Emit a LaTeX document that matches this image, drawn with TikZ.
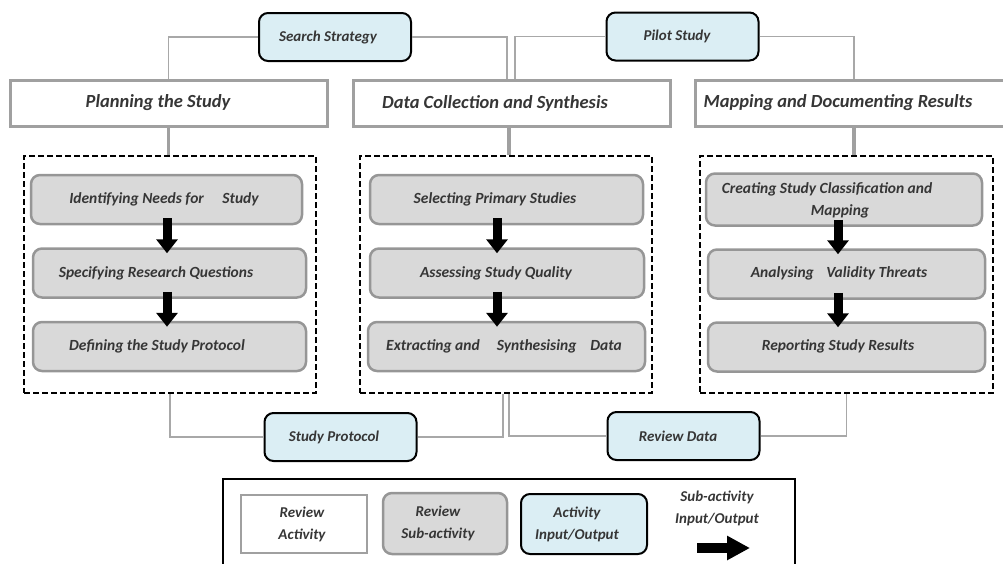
\documentclass[tikz,border=0pt]{standalone}
\usepackage{fontspec}
\setmainfont{Carlito}
\usetikzlibrary{arrows.meta,calc}
\definecolor{iofill}{HTML}{DBEEF4}
\definecolor{subfill}{HTML}{D9D9D9}
\definecolor{actborder}{HTML}{A0A0A0}
\definecolor{subborder}{HTML}{969696}
\definecolor{connc}{HTML}{A8A8A8}
\definecolor{txtc}{HTML}{363636}
\tikzset{
  actbox/.style={draw=actborder, line width=3pt, fill=white, minimum width=317pt, minimum height=46pt, inner sep=0pt},
  subbox/.style={draw=subborder, line width=2.5pt, fill=subfill, rounded corners=9pt, minimum height=49pt, inner sep=0pt},
  iobox/.style={draw=black, line width=2pt, fill=iofill, rounded corners=9pt, minimum width=152pt, minimum height=48pt, inner sep=0pt},
  dashbox/.style={draw=black, line width=1.8pt, dash pattern=on 6pt off 3pt, minimum width=292pt, minimum height=237pt, inner sep=0pt},
  acttxt/.style={text=txtc, font=\fontsize{18.5}{21}\selectfont\bfseries\itshape, inner sep=0pt},
  subtxt/.style={text=txtc, font=\fontsize{15.5}{22}\selectfont\bfseries\itshape, inner sep=0pt, align=center},
  iotxt/.style={text=txtc, font=\fontsize{15}{22}\selectfont\bfseries\itshape, inner sep=0pt, align=center},
  thinconn/.style={draw=connc, line width=1.3pt},
  thickconn/.style={draw=actborder, line width=3.5pt},
  blockarrow/.style={draw=black, line width=9pt, -{Triangle[length=14pt,width=21pt]}, shorten <=-7pt, shorten >=-6pt}
}
\begin{document}
\begin{tikzpicture}[x=1pt,y=-1pt]
\useasboundingbox (0,0) rectangle (1003,563);
\clip (0,0) rectangle (1003,563);
% activity boxes
\node[actbox] (plan) at (168.5,103.5) {};
\node[actbox] (data) at (512,103.5) {};
\node[actbox] (map) at (854,103.5) {};
\node[acttxt] (plant) at (158,103) {Planning the Study};
\node[acttxt] (datat) at (495,103) {Data Collection and Synthesis};
\node[acttxt] (mapt) at (838,103) {Mapping and Documenting Results};
% dashed containers
\node[dashbox] (d1) at (170,274.5) {};
\node[dashbox] (d2) at (506,274.5) {};
\node[dashbox, minimum width=293pt] (d3) at (846.5,274.5) {};
% io boxes
\node[iobox] (ss) at (335,37) {};
\node[iobox] (pilot) at (682.5,36.5) {};
\node[iobox] (sp) at (340.5,437) {};
\node[iobox] (rd) at (683.5,436) {};
\node[iotxt] (sst) at (328,37) {Search Strategy};
\node[iotxt] (pilott) at (677,36) {Pilot Study};
\node[iotxt] (spt) at (334,437) {Study Protocol};
\node[iotxt] (rdt) at (678,436) {Review Data};
% connectors
\draw[thinconn] (ss.west) -| (plan.north);
\draw[thinconn] (ss.east) -| ([xshift=-5pt]data.north);
\draw[thinconn] (pilot.west) -| ([xshift=3pt]data.north);
\draw[thinconn] (pilot.east) -| (map.north);
\draw[thickconn] (plan.south) -- (plan.south |- d1.north);
\draw[thickconn] ([xshift=-3pt]data.south) -- ([xshift=-3pt]data.south |- d2.north);
\draw[thickconn] (map.south) -- (map.south |- d3.north);
\draw[thinconn] (d1.south) |- (sp.west);
\draw[thinconn] (sp.east) -| ([xshift=-3pt]d2.south);
\draw[thinconn] ([xshift=3pt]d2.south) |- (rd.west);
\draw[thinconn] (rd.east) -| (d3.south);
% sub-activity boxes
\node[subbox, minimum width=271pt] (s11) at (166.5,199.5) {};
\node[subbox, minimum width=273pt] (s12) at (169.5,273) {};
\node[subbox, minimum width=273pt] (s13) at (169.5,346.5) {};
\node[subbox, minimum width=273pt] (s21) at (506.5,199.5) {};
\node[subbox, minimum width=274pt] (s22) at (507,273) {};
\node[subbox, minimum width=277pt] (s23) at (506.5,346.5) {};
\node[subbox, minimum width=276pt, minimum height=52pt] (s31) at (844,199.5) {};
\node[subbox, minimum width=277pt] (s32) at (846.5,274) {};
\node[subbox, minimum width=277pt] (s33) at (846.5,347) {};
\node[subtxt] (s11t) at (164,199) {Identifying Needs for\hspace{1.2em}Study};
\node[subtxt] (s12t) at (156,273) {Specifying Research Questions};
\node[subtxt] (s13t) at (157,346) {Defining the Study Protocol};
\node[subtxt] (s21t) at (495,199) {Selecting Primary Studies};
\node[subtxt] (s22t) at (496,273) {Assessing Study Quality};
\node[subtxt] (s23t) at (504,346) {Extracting and\hspace{1.1em}Synthesising\hspace{0.9em}Data};
\node[subtxt] (s31t) at (827,189) {Creating Study Classification and};
\node[subtxt] (s31u) at (840,211) {Mapping};
\node[subtxt] (s32t) at (839,273) {Analysing\hspace{0.8em}Validity Threats};
\node[subtxt] (s33t) at (838,346) {Reporting Study Results};
% sub-activity arrows
\draw[blockarrow] ([xshift=0.5pt]s11.south) -- ([xshift=0.5pt]s11.south |- s12.north);
\draw[blockarrow] ([xshift=-2.5pt]s12.south) -- ([xshift=-2.5pt]s12.south |- s13.north);
\draw[blockarrow] ([xshift=-9.5pt]s21.south) -- ([xshift=-9.5pt]s21.south |- s22.north);
\draw[blockarrow] ([xshift=-10pt]s22.south) -- ([xshift=-10pt]s22.south |- s23.north);
\draw[blockarrow] ([xshift=-6pt]s31.south) -- ([xshift=-6pt]s31.south |- s32.north);
\draw[blockarrow] ([xshift=-8.5pt]s32.south) -- ([xshift=-8.5pt]s32.south |- s33.north);
% legend
\node[draw=black, line width=2pt, minimum width=572pt, minimum height=100pt, inner sep=0pt] (legend) at (509,529) {};
\node[actbox, line width=2.8pt, minimum width=126pt, minimum height=58pt] (lgact) at (304,524) {};
\node[subbox, minimum width=124pt, minimum height=61pt] (lgsub) at (445,523.5) {};
\node[iobox, minimum width=126pt, minimum height=60pt] (lgio) at (584,524) {};
\node[iotxt] (lgactt) at (302,524) {Review\\Activity};
\node[iotxt] (lgsubt) at (438,523) {Review\\Sub-activity};
\node[iotxt] (lgiot) at (577,524) {Activity\\Input/Output};
\node[iotxt] (lgarrt) at (717,508) {Sub-activity\\Input/Output};
\coordinate (la1) at (697,548);
\coordinate (la2) at (750,548);
\draw[draw=black, line width=10pt, -{Triangle[length=23pt,width=23pt]}] (la1) -- (la2);
\end{tikzpicture}
\end{document}
